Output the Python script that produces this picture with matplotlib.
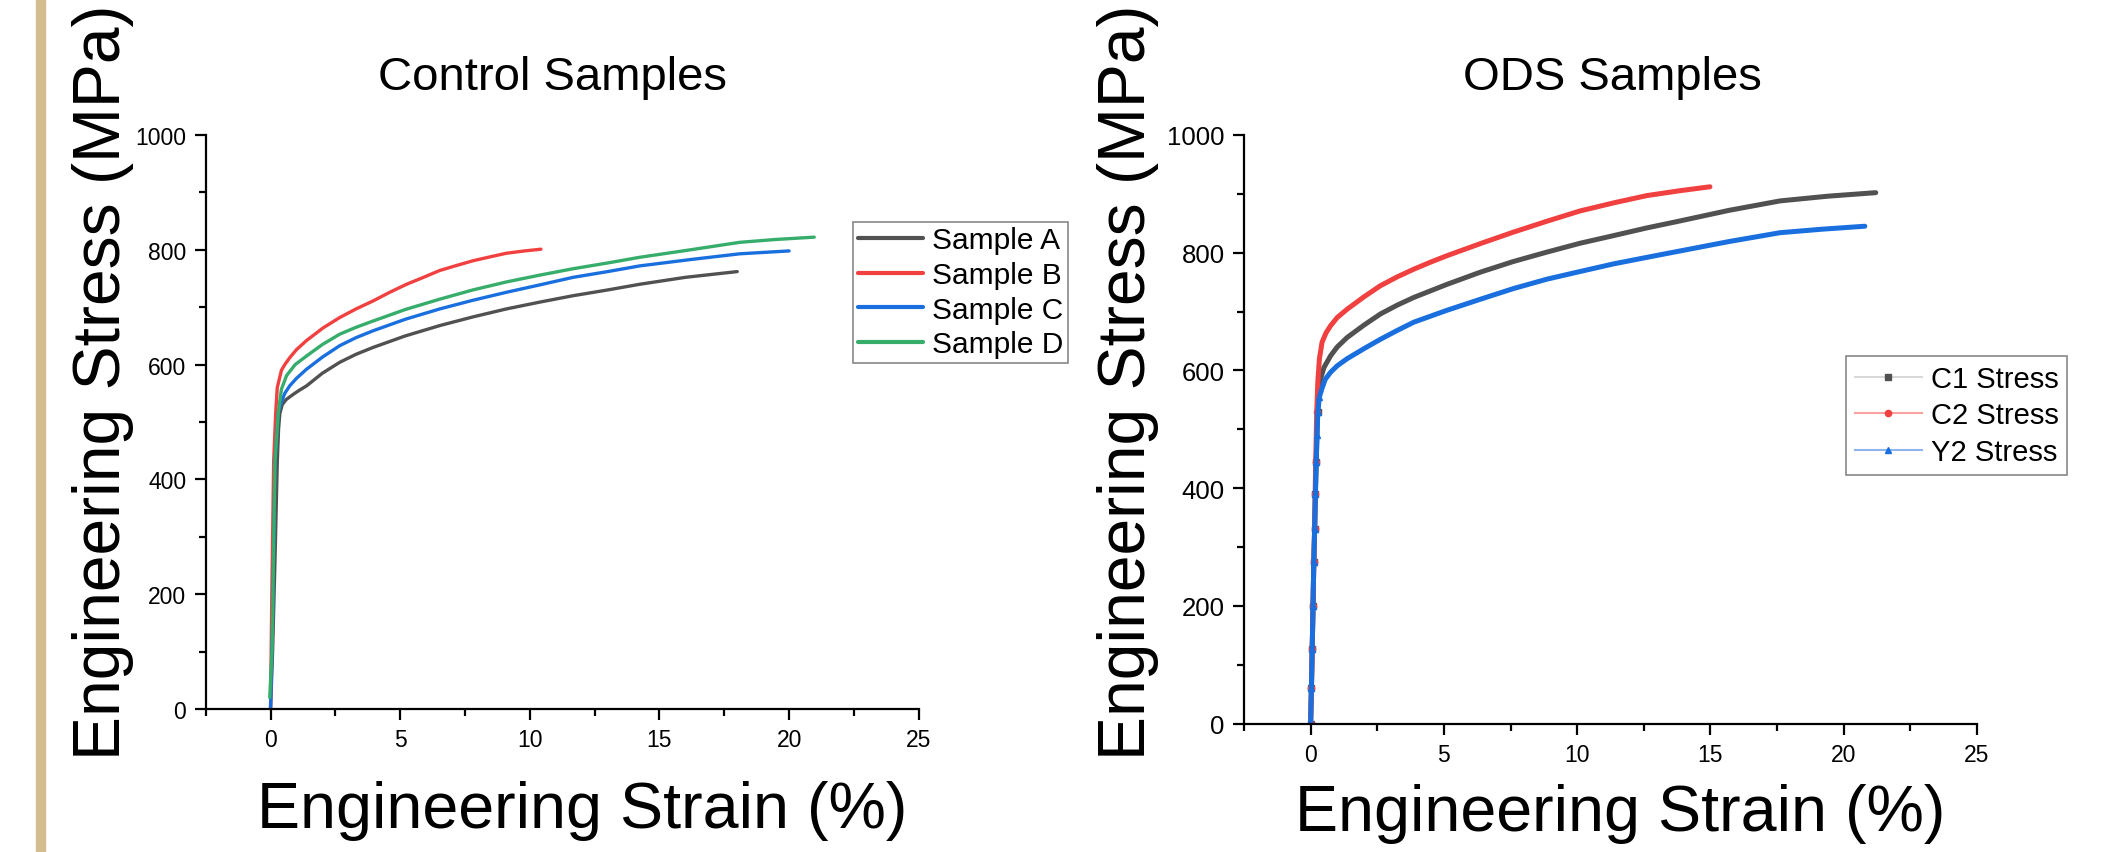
import matplotlib
matplotlib.use('Agg')
import matplotlib.pyplot as plt
from matplotlib.lines import Line2D
from matplotlib.patches import Rectangle
from matplotlib.ticker import MultipleLocator

plt.rcParams['font.family'] = ['Liberation Sans', 'DejaVu Sans']

# ---- Control samples (strain %, stress MPa) ----
strain_a = [0, 0.08, 0.17, 0.26, 0.31, 0.36, 0.45, 0.6, 0.87, 1.1, 1.39, 2.0, 2.67, 3.3, 3.96, 5.2,
            6.53, 7.8, 9.1, 10.4, 11.67, 13.0, 14.25, 16.0, 17.0, 18.0]
stress_a = [0, 100, 256, 430, 488, 515, 530, 539, 548, 555, 563, 585, 604, 618, 630, 650,
            668, 683, 697, 709, 720, 730, 740, 752, 757, 762]

strain_b = [0, 0.05, 0.12, 0.2, 0.26, 0.42, 0.55, 0.74, 1.0, 1.39, 2.03, 2.67, 3.3, 3.96, 4.6,
            5.25, 5.9, 6.53, 7.2, 7.82, 8.5, 9.1, 9.8, 10.43]
stress_b = [0, 200, 430, 517, 560, 590, 600, 612, 626, 642, 664, 682, 697, 711, 726,
            740, 752, 764, 773, 781, 788, 794, 798, 801]

strain_c = [0, 0.08, 0.17, 0.3, 0.42, 0.55, 0.74, 1.0, 1.39, 2.0, 2.67, 3.3, 3.96, 5.2, 6.53,
            7.8, 9.1, 10.4, 11.67, 13.0, 14.25, 16.2, 18.1, 20.0]
stress_c = [0, 150, 430, 517, 535, 550, 563, 576, 592, 613, 633, 647, 659, 679, 697,
            712, 726, 739, 752, 762, 772, 783, 793, 798]

strain_d = [-0.03, 0.06, 0.17, 0.3, 0.42, 0.62, 0.95, 1.39, 2.0, 2.67, 3.3, 3.96, 5.2, 6.53,
            7.8, 9.1, 10.4, 11.67, 13.0, 14.25, 16.2, 18.1, 19.5, 20.97]
stress_d = [20, 105, 430, 517, 557, 581, 600, 615, 635, 653, 665, 676, 696, 714,
            730, 744, 756, 767, 777, 787, 800, 813, 818, 822]

control_labels = ['Sample A', 'Sample B', 'Sample C', 'Sample D']
control_colors = ['#515151', '#F14040', '#1A6FDF', '#37AD6B']

# ---- ODS samples ----
strain_c1 = [0, 0.03, 0.06, 0.09, 0.12, 0.15, 0.18, 0.21, 0.26, 0.3, 0.37, 0.5, 0.75, 1.0, 1.37,
             2.0, 2.62, 3.25, 3.87, 5.1, 6.37, 7.6, 8.86, 10.1, 11.36, 12.6, 13.86, 15.7,
             17.61, 19.4, 21.2]
stress_c1 = [0, 60, 127, 200, 274, 330, 390, 444, 529, 560, 585, 605, 625, 640, 656,
             677, 696, 711, 724, 746, 767, 785, 801, 816, 829, 842, 854, 872,
             888, 896, 902]

strain_c2 = [0, 0.03, 0.06, 0.09, 0.12, 0.15, 0.17, 0.19, 0.23, 0.27, 0.33, 0.43, 0.58, 0.75,
             1.0, 1.37, 2.0, 2.62, 3.25, 3.87, 4.5, 5.12, 6.4, 7.61, 8.9, 10.11, 11.4,
             12.61, 13.8, 14.98]
stress_c2 = [0, 60, 127, 200, 274, 330, 390, 444, 529, 580, 620, 648, 664, 676,
             690, 704, 725, 744, 759, 772, 784, 795, 816, 835, 854, 871, 885,
             897, 905, 912]

strain_y2 = [0, 0.03, 0.06, 0.09, 0.12, 0.15, 0.18, 0.21, 0.24, 0.27, 0.33, 0.43, 0.55, 0.75,
             1.0, 1.37, 2.0, 2.62, 3.25, 3.87, 5.1, 6.37, 7.6, 8.86, 10.1, 11.36, 12.6,
             13.86, 15.7, 17.61, 19.2, 20.79]
stress_y2 = [0, 60, 127, 200, 274, 330, 390, 444, 490, 529, 555, 570, 585, 597,
             608, 620, 637, 653, 668, 682, 702, 721, 739, 755, 768, 781, 792,
             803, 819, 834, 840, 845]

ods_labels = ['C1 Stress', 'C2 Stress', 'Y2 Stress']
ods_colors = ['#515151', '#F14040', '#1A6FDF']
ods_light = ['#d9d9d9', '#f9a0a0', '#8fb5ef']
ods_markers = ['s', 'o', '^']


def style_axes(ax, ylabelsize):
    for s in ['top', 'right']:
        ax.spines[s].set_visible(False)
    for s in ['left', 'bottom']:
        ax.spines[s].set_linewidth(1.6)
    ax.set_xlim(-2.5, 25)
    ax.set_ylim(0, 1000)
    ax.xaxis.set_major_locator(MultipleLocator(5))
    ax.xaxis.set_minor_locator(MultipleLocator(2.5))
    ax.yaxis.set_major_locator(MultipleLocator(200))
    ax.yaxis.set_minor_locator(MultipleLocator(100))
    ax.tick_params(which='major', direction='out', length=8, width=1.6, pad=6)
    ax.tick_params(which='minor', direction='out', length=5, width=1.6)
    ax.tick_params(axis='x', labelsize=16.5)
    ax.tick_params(axis='y', labelsize=ylabelsize)


fig = plt.figure(figsize=(21.12, 8.53), dpi=100)

# tan bar on the left edge
fig.patches.append(Rectangle((36 / 2112, 0), 9 / 2112, 1, transform=fig.transFigure,
                             color='#d3bd8f', zorder=0))

ax1 = fig.add_axes([0.0974, 0.1676, 0.3376, 0.673])
ax2 = fig.add_axes([0.589, 0.1504, 0.3471, 0.6902])
style_axes(ax1, 16.5)
style_axes(ax2, 18.5)

control = [(strain_a, stress_a), (strain_b, stress_b), (strain_c, stress_c), (strain_d, stress_d)]
for (x, y), lab, col in zip(control, control_labels, control_colors):
    ax1.plot(x, y, color=col, lw=2.4, label=lab, solid_joinstyle='round', solid_capstyle='round')

leg1 = ax1.legend(loc='upper left', bbox_to_anchor=(0.4039, 0.7386), bbox_transform=fig.transFigure,
                  fontsize=21.5, fancybox=False, edgecolor='#888888', framealpha=1,
                  borderpad=0.15, handlelength=2.2, handletextpad=0.3, labelspacing=0.22,
                  borderaxespad=0)
leg1.get_frame().set_linewidth(1.2)
for h in leg1.get_lines():
    h.set_linewidth(3)

ods = [(strain_c1, stress_c1), (strain_c2, stress_c2), (strain_y2, stress_y2)]
for (x, y), col, mk in zip(ods, ods_colors, ods_markers):
    elastic = [i for i, v in enumerate(y) if v < 560]
    ax2.plot(x, y, color=col, lw=3.6, marker=mk, ms=4.5, mec=col, mfc=col,
             markevery=elastic, solid_joinstyle='round', solid_capstyle='round')

handles = [Line2D([], [], color=lc, lw=1.5, marker=mk, ms=4.5, mfc=c, mec=c)
           for lc, c, mk in zip(ods_light, ods_colors, ods_markers)]
leg2 = ax2.legend(handles, ods_labels, loc='upper left', bbox_to_anchor=(0.8741, 0.5815),
                  bbox_transform=fig.transFigure, fontsize=21, fancybox=False,
                  edgecolor='#888888', framealpha=1, borderpad=0.3, handlelength=2.3,
                  handletextpad=0.3, labelspacing=0.3, borderaxespad=0)
leg2.get_frame().set_linewidth(1.2)

# titles and axis labels
fig.text(0.2614, 0.8945, 'Control Samples', fontsize=34, ha='center', va='baseline')
fig.text(0.7633, 0.8945, 'ODS Samples', fontsize=34, ha='center', va='baseline')

fig.text(0.2756, 0.0293, 'Engineering Strain (%)', fontsize=46.5, ha='center', va='baseline')
fig.text(0.7670, 0.0258, 'Engineering Strain (%)', fontsize=46.5, ha='center', va='baseline')

fig.text(0.0568, 0.5516, 'Engineering Stress (MPa)', fontsize=47.5, rotation=90,
         rotation_mode='anchor', ha='center', va='baseline')
fig.text(0.5420, 0.5516, 'Engineering Stress (MPa)', fontsize=47.5, rotation=90,
         rotation_mode='anchor', ha='center', va='baseline')

fig.savefig('out.png', dpi=100)
